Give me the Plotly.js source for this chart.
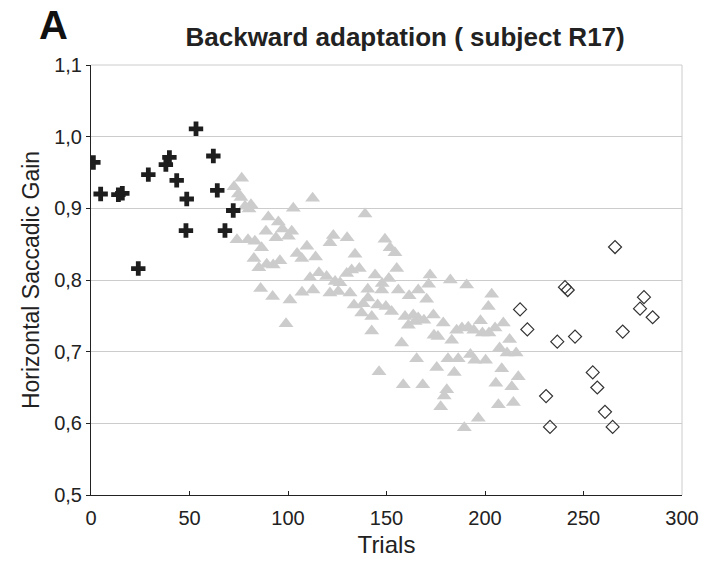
<!DOCTYPE html>
<html>
<head>
<meta charset="utf-8">
<script src="https://cdn.plot.ly/plotly-3.0.1.min.js"></script>
<style>html,body{margin:0;padding:0;background:#fff;}#chart{width:707px;height:563px;}</style>
</head>
<body>
<div id="chart"></div>
<script>
// Pre-adaptation trials (plus markers)
var plusTrials = [1.2, 4.9, 13.9, 15.9, 24, 29.1, 38, 39.8, 43.5, 48.6, 48.2, 53.3, 62.1, 64.1, 68, 72.2];
var plusGains  = [0.964, 0.920, 0.919, 0.921, 0.816, 0.947, 0.961, 0.971, 0.939, 0.913, 0.869, 1.011, 0.973, 0.925, 0.869, 0.897];

// Adaptation trials (grey triangles)
var triTrials = [76.5, 72.6, 74.8, 76.1, 78.2, 81.2, 80.2, 112.5, 102.7, 90.0, 95.1, 97.2, 101.9, 88.8, 93.9, 100.2,
  74.1, 79.7, 83.2, 86.6, 109.6, 104.6, 107, 114, 82.7, 85.2, 89.2, 92.5, 95.9, 111.2, 115.7, 119.6, 123.9, 129.8,
  86.1, 107.1, 112.7, 92.2, 101, 99, 123, 121.3, 130, 139.1, 134, 149.2, 151.8, 154.3, 136.2, 132.3, 126.4, 144.2,
  155.2, 151.2, 147.8, 147.6, 172.1, 171.4, 182.4, 190.7, 203.4, 156, 161.5, 166.1, 170.4, 131.5, 140.5, 121.3,
  140.6, 125.5, 138.2, 133.5, 145.5, 149.7, 152.6, 137.4, 142.5, 159.4, 163.6, 166.1, 169, 173.8, 178.8, 161.1,
  164.5, 142.5, 185.6, 157.7, 146.2, 158.5, 165.3, 168.4, 201.7, 174.1, 176.1, 183.1, 188.3, 191.5, 194.3, 197.7,
  198.7, 202, 205.1, 209.3, 212.5, 207.4, 211.2, 215.8, 181.2, 186.4, 192.6, 194.8, 200.3, 175.5, 184.4, 208.5,
  216.9, 205.5, 213.6, 180.6, 179.3, 177.5, 206.8, 214.4, 196.6, 189.5];
var triGains = [0.942, 0.930, 0.920, 0.915, 0.903, 0.905, 0.899, 0.914, 0.900, 0.888, 0.881, 0.871, 0.868, 0.868, 0.859, 0.861,
  0.856, 0.856, 0.854, 0.845, 0.847, 0.837, 0.830, 0.832, 0.830, 0.817, 0.822, 0.821, 0.827, 0.803, 0.810, 0.805, 0.798, 0.809,
  0.788, 0.783, 0.786, 0.777, 0.772, 0.739, 0.862, 0.852, 0.859, 0.892, 0.836, 0.857, 0.845, 0.838, 0.816, 0.814, 0.796, 0.807,
  0.816, 0.802, 0.795, 0.786, 0.807, 0.794, 0.800, 0.793, 0.780, 0.786, 0.778, 0.786, 0.773, 0.782, 0.787, 0.782,
  0.775, 0.784, 0.767, 0.765, 0.765, 0.763, 0.756, 0.754, 0.749, 0.749, 0.751, 0.747, 0.744, 0.751, 0.740, 0.737,
  0.742, 0.729, 0.730, 0.712, 0.672, 0.654, 0.690, 0.654, 0.763, 0.723, 0.721, 0.716, 0.733, 0.734, 0.730, 0.743,
  0.726, 0.726, 0.733, 0.740, 0.717, 0.705, 0.698, 0.698, 0.690, 0.690, 0.696, 0.688, 0.688, 0.678, 0.671, 0.676,
  0.665, 0.656, 0.651, 0.647, 0.638, 0.623, 0.626, 0.629, 0.607, 0.594];

// Post-adaptation trials (open diamonds)
var diaTrials = [266, 240.6, 242, 280.7, 217.8, 278.7, 285.1, 221.5, 269.9, 245.7, 236.7, 254.7, 257, 231, 260.9, 233, 264.8];
var diaGains  = [0.846, 0.790, 0.786, 0.776, 0.759, 0.760, 0.748, 0.731, 0.728, 0.721, 0.714, 0.671, 0.650, 0.638, 0.616, 0.595, 0.595];

var xTicks = [0, 50, 100, 150, 200, 250, 300];
var yTicks = [0.5, 0.6, 0.7, 0.8, 0.9, 1.0, 1.1];

var fontFam = 'Liberation Sans, Arial, sans-serif';

var traces = [
  {x: triTrials, y: triGains, type: 'scatter', mode: 'markers',
   marker: {symbol: 'triangle-up', size: 13, color: '#cccccc', line: {width: 0}}},
  {x: plusTrials, y: plusGains, type: 'scatter', mode: 'markers',
   marker: {symbol: 'cross', size: 12, color: '#1e1e1e', line: {width: 0}}},
  {x: diaTrials, y: diaGains, type: 'scatter', mode: 'markers',
   marker: {symbol: 'diamond-open', size: 10, color: '#333333', line: {width: 1.2, color: '#333333'}}}
];

var layout = {
  width: 707, height: 563,
  margin: {l: 91, r: 25, t: 65, b: 68},
  paper_bgcolor: '#ffffff', plot_bgcolor: '#ffffff',
  separators: ', ',
  showlegend: false,
  font: {family: fontFam, color: '#222222', size: 20},
  title: {text: '<b>Backward adaptation ( subject R17)</b>', font: {family: fontFam, size: 26, color: '#222222'},
          xref: 'container', x: 0.573, xanchor: 'center', y: 0.934, yanchor: 'middle'},
  xaxis: {range: [0, 300], tickvals: xTicks, tickformat: 'd', showgrid: false, zeroline: false,
          showline: true, linecolor: '#222222', linewidth: 1, ticks: 'inside', ticklen: 4, tickcolor: '#222222',
          ticklabelstandoff: 5,
          tickfont: {size: 20}, title: {text: 'Trials', font: {size: 24}, standoff: 8}},
  yaxis: {range: [0.5, 1.1], tickvals: yTicks, tickformat: '.1f', showgrid: true, gridcolor: '#cccccc', gridwidth: 1,
          zeroline: false, showline: true, linecolor: '#222222', linewidth: 1, ticks: 'outside', ticklen: 4,
          tickcolor: '#222222', tickfont: {size: 20},
          title: {text: 'Horizontal Saccadic Gain', font: {size: 23}, standoff: 8}},
  shapes: [
    {type: 'line', xref: 'paper', yref: 'paper', x0: 0, x1: 1, y0: 1, y1: 1, line: {color: '#cccccc', width: 1}},
    {type: 'line', xref: 'paper', yref: 'paper', x0: 1, x1: 1, y0: 0, y1: 1, line: {color: '#cccccc', width: 1}}
  ],
  annotations: [
    {text: '<b>A</b>', xref: 'paper', yref: 'paper', x: -0.092, y: 1.093, xanchor: 'left', yanchor: 'middle',
     showarrow: false, font: {family: fontFam, size: 40, color: '#111111'}}
  ]
};

Plotly.newPlot('chart', traces, layout, {displayModeBar: false, staticPlot: true});
</script>
</body>
</html>
